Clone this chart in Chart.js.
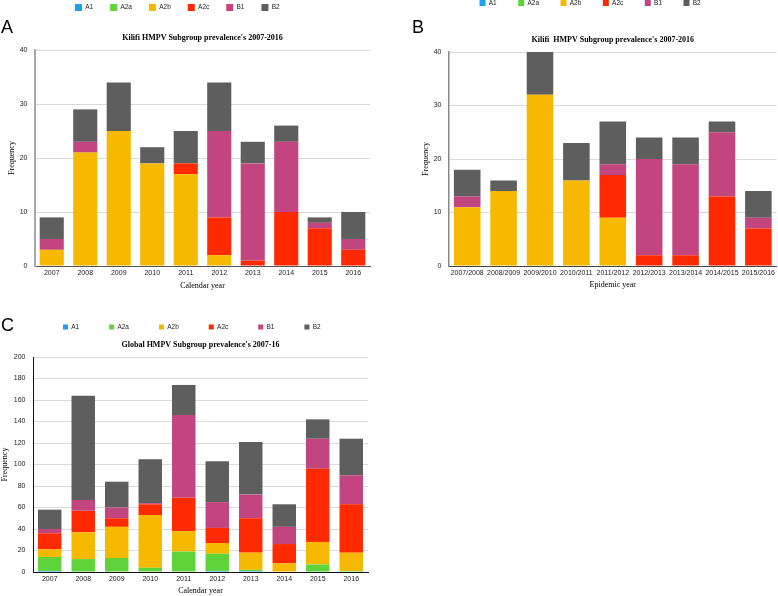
<!DOCTYPE html>
<html>
<head>
<meta charset="utf-8">
<script src="https://cdn.jsdelivr.net/npm/chart.js@4/dist/chart.umd.min.js"></script>
<style>
html,body{margin:0;padding:0;background:#fff;width:778px;height:596px;overflow:hidden;}
.panel{position:absolute;}
.panel canvas{display:block;}
.letter{position:absolute;font-family:"Liberation Sans",Arial,sans-serif;font-size:18px;line-height:18px;color:#000;z-index:2;}
</style>
</head>
<body>
<div class="panel" style="left:0;top:0;width:390px;height:300px"><canvas id="cA" width="390" height="300"></canvas></div>
<div class="panel" style="left:390px;top:0;width:388px;height:300px"><canvas id="cB" width="388" height="300"></canvas></div>
<div class="panel" style="left:0;top:300px;width:390px;height:296px"><canvas id="cC" width="390" height="296"></canvas></div>
<div class="letter" style="left:1px;top:17.7px">A</div>
<div class="letter" style="left:412px;top:17.7px">B</div>
<div class="letter" style="left:1px;top:315.7px">C</div>
<script>
// ---------- data ----------
const subgroups = ['A1', 'A2a', 'A2b', 'A2c', 'B1', 'B2'];
const subgroupColors = ['#1BA1F2', '#5FD33A', '#F7B900', '#FF2A00', '#C2457F', '#5E5E5E'];

const calendarYears = ['2007', '2008', '2009', '2010', '2011', '2012', '2013', '2014', '2015', '2016'];
const epidemicYears = ['2007/2008', '2008/2009', '2009/2010', '2010/2011', '2011/2012', '2012/2013', '2013/2014', '2014/2015', '2015/2016'];

// Panel A: Kilifi by calendar year
const kilifiCalA1  = [0, 0, 0, 0, 0, 0, 0, 0, 0, 0];
const kilifiCalA2a = [0, 0, 0, 0, 0, 0, 0, 0, 0, 0];
const kilifiCalA2b = [3, 21, 25, 19, 17, 2, 0, 0, 0, 0];
const kilifiCalA2c = [0, 0, 0, 0, 2, 7, 1, 10, 7, 3];
const kilifiCalB1  = [2, 2, 0, 0, 0, 16, 18, 13, 1, 2];
const kilifiCalB2  = [4, 6, 9, 3, 6, 9, 4, 3, 1, 5];

// Panel B: Kilifi by epidemic year
const kilifiEpiA1  = [0, 0, 0, 0, 0, 0, 0, 0, 0];
const kilifiEpiA2a = [0, 0, 0, 0, 0, 0, 0, 0, 0];
const kilifiEpiA2b = [11, 14, 32, 16, 9, 0, 0, 0, 0];
const kilifiEpiA2c = [0, 0, 0, 0, 8, 2, 2, 13, 7];
const kilifiEpiB1  = [2, 0, 0, 0, 2, 18, 17, 12, 2];
const kilifiEpiB2  = [5, 2, 8, 7, 8, 4, 5, 2, 5];

// Panel C: Global by calendar year
const globalA1  = [1, 0, 0, 0, 0, 1, 1, 0, 0, 0];
const globalA2a = [13, 12, 13, 4, 19, 16, 1, 0, 7, 1];
const globalA2b = [7, 25, 29, 49, 19, 10, 16, 8, 21, 17];
const globalA2c = [15, 20, 8, 10, 31, 14, 32, 18, 68, 45];
const globalB1  = [4, 10, 10, 1, 77, 24, 22, 16, 28, 27];
const globalB2  = [18, 97, 24, 41, 28, 38, 49, 21, 18, 34];

// ---------- helpers ----------
// moves the legend row (and its clip box) after layout, without changing the plot area
const legendShift = {
  id: 'legendShift',
  afterLayout(chart, args, opts) {
    const lg = chart.legend;
    if (!lg) return;
    const dx = opts.dx || 0, dy = opts.dy || 0;
    lg.left += dx; lg.right += dx;
    lg.top += dy;
    lg.bottom = lg.top + 80;
  }
};

function makeChart(id, cfg) {
  const datasets = cfg.series.map((arr, i) => ({
    label: subgroups[i],
    data: arr,
    backgroundColor: subgroupColors[i],
    borderWidth: 0,
    categoryPercentage: 1,
    barPercentage: cfg.barPct
  }));
  return new Chart(document.getElementById(id), {
    type: 'bar',
    data: { labels: cfg.labels, datasets },
    plugins: [legendShift],
    options: {
      responsive: false,
      animation: false,
      devicePixelRatio: 1,
      layout: { padding: { left: 0, right: cfg.padRight, top: 0, bottom: 0 } },
      plugins: {
        tooltip: { enabled: false },
        legendShift: { dx: cfg.legDx, dy: cfg.legDy },
        legend: {
          display: true,
          position: 'top',
          weight: 3000,
          maxHeight: 20,
          labels: {
            boxWidth: cfg.boxSize,
            boxHeight: cfg.boxSize,
            padding: cfg.legPad,
            color: '#222',
            font: { family: '"Liberation Sans", Arial, sans-serif', size: 6.5 }
          }
        },
        title: {
          display: true,
          text: cfg.title,
          fullSize: false,
          color: '#000',
          font: { family: '"Liberation Serif", "Times New Roman", serif', size: 8, weight: 'bold', lineHeight: 1.2 },
          padding: { top: cfg.titleTop, bottom: 7.2 }
        }
      },
      scales: {
        x: {
          stacked: true,
          afterFit: s => { s.height = cfg.xHeight; },
          grid: { display: false, drawTicks: false },
          border: { display: true, color: cfg.xBorder, width: 1 },
          ticks: {
            autoSkip: false, maxRotation: 0, minRotation: 0, padding: 3,
            color: '#222',
            font: { family: '"Liberation Sans", Arial, sans-serif', size: 7 }
          },
          title: {
            display: true, text: cfg.xTitle, color: '#000',
            font: { family: '"Liberation Serif", "Times New Roman", serif', size: 8, lineHeight: 1.2 },
            padding: { top: 0, bottom: cfg.xTitlePad }
          }
        },
        y: {
          stacked: true,
          min: 0, max: cfg.yMax,
          afterFit: s => { s.width = cfg.yWidth; },
          grid: { color: '#DADADA', lineWidth: 1, drawTicks: false },
          border: { display: true, color: cfg.yBorder, width: cfg.yBorderW },
          ticks: {
            stepSize: cfg.yStep, padding: 7.5,
            color: '#222',
            font: { family: '"Liberation Sans", Arial, sans-serif', size: 7 }
          },
          title: {
            display: true, text: 'Frequency', color: '#000',
            font: { family: '"Liberation Serif", "Times New Roman", serif', size: 8, lineHeight: 1.2 },
            padding: { top: cfg.yTitlePad, bottom: 0 }
          }
        }
      }
    }
  });
}

makeChart('cA', {
  labels: calendarYears,
  series: [kilifiCalA1, kilifiCalA2a, kilifiCalA2b, kilifiCalA2c, kilifiCalB1, kilifiCalB2],
  title: "Kilifi HMPV Subgroup prevalence's 2007-2016",
  xTitle: 'Calendar year',
  barPct: 0.72, padRight: 20, yWidth: 35, xHeight: 34,
  yMax: 40, yStep: 10, titleTop: 13.2,
  legPad: 17, boxSize: 7, legDx: -7.7, legDy: -13,
  xTitlePad: 9, yTitlePad: 7.2,
  xBorder: '#555', yBorder: '#A8A8A8', yBorderW: 2
});

makeChart('cB', {
  labels: epidemicYears,
  series: [kilifiEpiA1, kilifiEpiA2a, kilifiEpiA2b, kilifiEpiA2c, kilifiEpiB1, kilifiEpiB2],
  title: "Kilifi  HMPV Subgroup prevalence's 2007-2016",
  xTitle: 'Epidemic year',
  barPct: 0.73, padRight: 1, yWidth: 59, xHeight: 34,
  yMax: 40, yStep: 10, titleTop: 15.2,
  legPad: 21.5, boxSize: 6, legDx: 6.6, legDy: -21.75,
  xTitlePad: 10, yTitlePad: 31,
  xBorder: '#444', yBorder: '#888', yBorderW: 1.5
});

makeChart('cC', {
  labels: calendarYears,
  series: [globalA1, globalA2a, globalA2b, globalA2c, globalB1, globalB2],
  title: "Global HMPV Subgroup prevalence's 2007-16",
  xTitle: 'Calendar year',
  barPct: 0.70, padRight: 22, yWidth: 33, xHeight: 24,
  yMax: 200, yStep: 20, titleTop: 20.2,
  legPad: 30, boxSize: 5, legDx: 7.8, legDy: -6.25,
  xTitlePad: 0, yTitlePad: 0,
  xBorder: '#111', yBorder: '#111', yBorderW: 1
});
</script>
</body>
</html>
